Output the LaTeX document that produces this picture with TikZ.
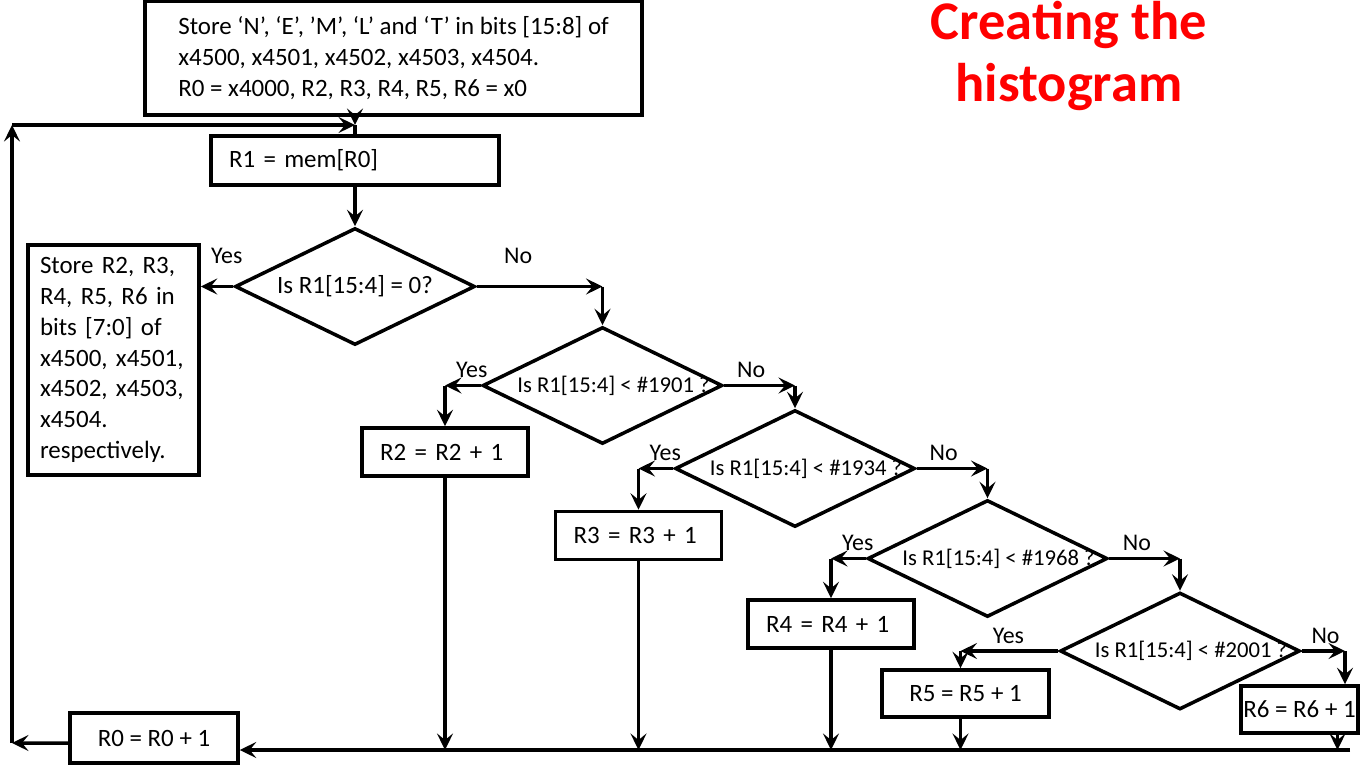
\documentclass[tikz,border=0pt]{standalone}
\usepackage{fontspec}
\setmainfont{Carlito}
\usetikzlibrary{shapes.geometric, arrows.meta, positioning}

% keeps the question from widening its diamond
\newcommand{\qtext}[2][0cm]{\makebox[0pt]{\hspace{#1}#2}}

\begin{document}
\begin{tikzpicture}[
    x=0.02cm, y=-0.02cm,
    box/.style={rectangle, draw, line width=2pt, inner ysep=0pt, font=\fontsize{14.2}{17.5}\selectfont},
    left_box/.style={box, align=left},
    dec/.style={diamond, draw, line width=2pt, inner sep=0pt, aspect=2.05, minimum width=4.8cm, minimum height=2.34cm, font=\fontsize{12.9}{15}\selectfont},
    arrow/.style={-{Stealth[length=3.3mm, width=3.2mm, inset=1.3mm]}, line width=2pt},
    label_style/.style={font=\fontsize{13.6}{16}\selectfont},
    title_style/.style={font=\bfseries\fontsize{31}{35}\selectfont, text=red, align=center}
]
\useasboundingbox (0,0) rectangle (1363,765);

\node[title_style] (title) at (1069,56) {Creating the\\histogram};

% set-up and loop start
\node[left_box, minimum width=9.94cm, minimum height=2.28cm] (init) at (393.5,58) {Store ‘N’, ‘E’, ’M’, ‘L’ and ‘T’ in bits [15:8] of\\x4500, x4501, x4502, x4503, x4504.\\R0 = x4000, R2, R3, R4, R5, R6 = x0};
\node[left_box, text width=5.04cm, inner xsep=0.36cm, minimum height=0.98cm] (r1) at (355,160.5) {R1 = mem[R0]};
\node[dec, font=\fontsize{14.2}{17.5}\selectfont] (d0) at (355,286.5) {\qtext{Is R1[15:4] = 0?}};
\node[left_box, text width=2.94cm, inner xsep=0.24cm, minimum height=4.6cm] (store) at (113.5,360) {Store R2, R3,\\R4, R5, R6 in\\bits [7:0] of\\x4500, x4501,\\x4502, x4503,\\x4504.\\respectively.};

% comparisons
\node[dec] (d1) at (602.5,385.5) {\qtext[0.44cm]{Is R1[15:4] < \#1901 ?}};
\node[dec] (d2) at (795,468.5) {\qtext[0.44cm]{Is R1[15:4] < \#1934 ?}};
\node[dec] (d3) at (987.5,558.5) {\qtext[0.44cm]{Is R1[15:4] < \#1968 ?}};
\node[dec] (d4) at (1180,651) {\qtext[0.44cm]{Is R1[15:4] < \#2001 ?}};

% counters
\node[left_box, text width=2.6cm, inner xsep=0.36cm, minimum height=0.96cm] (r2) at (445,452) {R2 = R2 + 1};
\node[left_box, text width=2.6cm, inner xsep=0.36cm, minimum height=0.96cm] (r3) at (638.5,535.5) {R3 = R3 + 1};
\node[left_box, text width=2.6cm, inner xsep=0.36cm, minimum height=0.96cm] (r4) at (831,624) {R4 = R4 + 1};
\node[box, minimum width=3.34cm, minimum height=0.94cm] (r5) at (965.5,693.5) {R5 = R5 + 1};
\node[box, inner xsep=0pt, minimum width=2.34cm, minimum height=0.94cm] (r6) at (1299.5,709.5) {R6 = R6 + 1};
\node[box, minimum width=3.36cm, minimum height=1.0cm] (r0) at (154,738) {R0 = R0 + 1};

\coordinate (top) at (355,125);
\coordinate (lt) at (12,125);
\coordinate (lb) at (12,743);
\coordinate (bend) at (1350,750);
\coordinate (c4n) at (1345,651);

\draw[arrow] (init.south -| top) -- (top);
\draw[line width=2pt] (top) -- (r1.north);
\draw[arrow] (r1.south) -- (d0.north);
\draw[arrow] (d0.west) -- node[above, label_style, pos=0.2, yshift=0.3cm] {Yes} (store.east |- d0.west);
\draw[arrow] (d0.east) -- node[above, label_style, pos=0.33, yshift=0.3cm] {No} (d1.north |- d0.east);
\draw[arrow] (d1.north |- d0.east) -- (d1.north);

\draw[arrow] (d1.west) -- node[above, label_style, pos=0.25] {Yes} (r2.north |- d1.west);
\draw[arrow] (r2.north |- d1.west) -- (r2.north);
\draw[arrow] (d1.east) -- node[above, label_style, pos=0.38] {No} (d2.north |- d1.east);
\draw[arrow] (d2.north |- d1.east) -- (d2.north);

\draw[arrow] (d2.west) -- node[above, label_style, pos=0.23] {Yes} (r3.north |- d2.west);
\draw[arrow] (r3.north |- d2.west) -- (r3.north);
\draw[arrow] (d2.east) -- node[above, label_style, pos=0.38] {No} (d3.north |- d2.east);
\draw[arrow] (d3.north |- d2.east) -- (d3.north);

\draw[arrow] (d3.west) -- node[above, label_style, pos=0.23] {Yes} (r4.north |- d3.west);
\draw[arrow] (r4.north |- d3.west) -- (r4.north);
\draw[arrow] (d3.east) -- node[above, label_style, pos=0.39] {No} (d4.north |- d3.east);
\draw[arrow] (d4.north |- d3.east) -- (d4.north);

\draw[arrow] (d4.west) -- node[above, label_style, pos=0.51] {Yes} ([xshift=-0.1cm]r5.north |- d4.west);
\draw[arrow] ([xshift=-0.1cm]r5.north |- d4.west) -- ([xshift=-0.1cm]r5.north);
\draw[arrow] (d4.east) -- node[above, label_style, pos=0.55] {No} (c4n);
\draw[arrow] (c4n) -- (c4n |- r6.north);

% back to the loop
\draw[arrow] (r2.south) -- (r2.south |- bend);
\draw[arrow] (r3.south) -- (r3.south |- bend);
\draw[arrow] (r4.south) -- (r4.south |- bend);
\draw[arrow] ([xshift=-0.1cm]r5.south) -- ([xshift=-0.1cm]r5.south |- bend);
\draw[arrow] ([xshift=0.76cm]r6.south) -- ([xshift=0.76cm]r6.south |- bend);
\draw[arrow] (bend) -- (r0.east |- bend);
\draw[arrow] ([yshift=-0.1cm]r0.west) -- (lb);
\draw[arrow] (lb) -- (lt);
\draw[arrow] (lt) -- (top);
\end{tikzpicture}
\end{document}
